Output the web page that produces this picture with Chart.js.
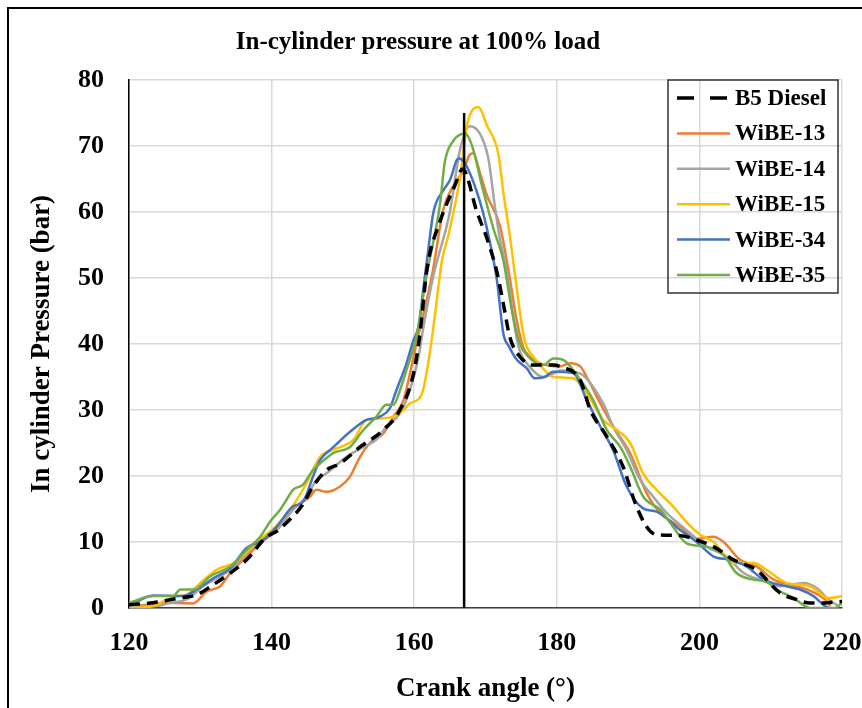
<!DOCTYPE html>
<html>
<head>
<meta charset="utf-8">
<title>In-cylinder pressure at 100% load</title>
<script src="https://cdn.jsdelivr.net/npm/chart.js@4.4.0/dist/chart.umd.min.js"></script>
<style>
  html, body { margin: 0; padding: 0; background: #fff; overflow: hidden; }
  #frame { position: absolute; left: 7px; top: 7px; width: 1000px; height: 1000px; border: 2px solid #000; }
  #wrap { position: absolute; left: 0; top: 0; width: 900px; height: 740px; }
</style>
</head>
<body>
<div id="frame"></div>
<div id="wrap"><canvas id="pressureChart"></canvas></div>
<script>
const chartTitle = 'In-cylinder pressure at 100% load';
const xTitle = 'Crank angle (°)';
const yTitle = 'In cylinder Pressure (bar)';

// crank angle (deg) / pressure (bar)
const b5Angle = [120, 123.4, 127, 129.5, 131.5, 134.2, 136.5, 139.3, 140.7, 143, 144.2, 145.8, 147.7, 149.6, 152.4, 155.7, 158, 159.9, 160.8, 161.8, 163.6, 165.7, 166.8, 168.8, 170.2, 171.6, 172.5, 173.4, 174.8, 176.7, 179.5, 180.4, 183.3, 184.7, 187, 189.3, 191, 192.6, 194, 197.2, 199.6, 202, 204.8, 208, 211.3, 213.6, 215.5, 218, 220];
const b5Pressure = [0.5, 0.8, 1.5, 2.0, 3.3, 5.3, 7.3, 10.8, 11.6, 13.9, 15.4, 18.4, 20.9, 21.9, 24.4, 27, 30, 35.5, 41.5, 51.4, 58.5, 64, 66.5, 60, 56, 50.9, 46.1, 41.1, 38.1, 36.8, 36.8, 36.6, 34.5, 30, 26, 21.4, 15.9, 12.3, 11.1, 11, 10.3, 9.3, 7.3, 5.8, 2.3, 1.3, 0.75, 0.8, 1];

const wibe13Angle = [120, 122.5, 125.3, 129, 130.9, 132.8, 134.2, 136.5, 138.4, 140.7, 143, 145.4, 146.3, 147.7, 149.6, 151, 152.4, 153.8, 155.7, 157.1, 158.5, 159.4, 160.3, 162.5, 164.1, 165.5, 166.9, 167.8, 168.3, 169.2, 170.2, 172, 173.4, 174.3, 175.3, 176.3, 177.6, 180.4, 181.9, 183.3, 184.2, 186.1, 187.9, 190.3, 192.6, 194.5, 197.3, 199.6, 202, 203.4, 205.7, 208, 210.4, 212.7, 215.1, 217.4, 218.4];
const wibe13Pressure = [0.3, 0.5, 0.8, 0.7, 2.5, 3.3, 5.3, 7.8, 9.8, 11.8, 14.9, 16.9, 17.9, 17.6, 18.4, 19.9, 22.9, 25, 26.5, 29, 31.5, 35.5, 40, 50.4, 60.5, 64, 66.3, 68.7, 68.9, 66, 62.5, 58, 50, 44, 39.5, 38, 37.1, 36.6, 37.1, 36.6, 35, 31, 27.5, 23.4, 17.4, 14.4, 12.3, 10.5, 10.8, 10, 7.3, 6.3, 4.3, 3.5, 2.8, 1.5, 0.3];

const wibe14Angle = [120, 123.9, 125.8, 128.1, 130.4, 134.2, 136.5, 138.8, 140.7, 143, 144.9, 146.3, 147.7, 150.5, 152.9, 154.7, 156.1, 158, 159.4, 160.6, 161.3, 162.7, 165, 166.4, 167.8, 169.2, 170.4, 171.3, 172, 172.7, 173.4, 174.1, 174.8, 176, 178.1, 179.5, 180.5, 183.3, 186.5, 187.9, 189.8, 191.7, 193.5, 195.4, 198.2, 201, 203.8, 206.2, 208.5, 211.3, 214.6, 216.5, 217.9, 219.5];
const wibe14Pressure = [0.3, 0.3, 0.8, 1.3, 3.3, 5.8, 8.3, 10.3, 11.8, 14.9, 16.9, 19.4, 20.4, 22.9, 24.4, 25.5, 27.5, 29.5, 33, 38, 42.6, 50.4, 60, 69.3, 73, 71.9, 68.1, 61, 56, 52.5, 48, 42.5, 39, 36.8, 35, 35.5, 36, 35.5, 31, 27.5, 23.9, 19.4, 16.9, 14.4, 11.8, 9.3, 7.8, 5.3, 4.3, 3.3, 3.8, 3, 1.5, 0.3];

const wibe15Angle = [120, 123.4, 124.8, 126.7, 128.1, 130, 132.3, 134.7, 136.5, 138.5, 140.7, 143, 144.9, 146.8, 148.7, 151.5, 153.3, 155.2, 157.1, 158, 159.4, 161.1, 161.8, 162.7, 163.9, 164.8, 166.4, 167.4, 169, 170.2, 171.8, 172.5, 173.4, 174.2, 174.8, 175.5, 176.7, 178.3, 179.5, 182.3, 184.5, 186.5, 188.4, 190.3, 192.1, 194, 196.3, 198.2, 200.1, 202, 204.8, 207.6, 209.4, 212.2, 215.5, 218.1, 220];
const wibe15Pressure = [0, 0.3, 1, 1.8, 2, 3.8, 5.8, 6.8, 8.5, 10.5, 12.5, 15.5, 18.9, 22.9, 24, 25.5, 28.5, 28.7, 29, 29.5, 31, 32.5, 36, 42.6, 52.7, 56.5, 65, 73.1, 75.9, 73.1, 68.8, 63, 56.5, 50, 45, 40.5, 38.1, 36, 35, 34.8, 32, 28.5, 27, 25, 20.4, 17.9, 15.4, 13, 11.1, 10, 6.8, 6.8, 5.8, 3.8, 3.3, 1.5, 1.8];

const wibe34Angle = [120, 123.4, 127.6, 129.5, 131.8, 134.2, 136.5, 138.8, 140.7, 143, 144.4, 145.8, 146.8, 148.7, 151, 153.3, 155.2, 156.6, 157.5, 158.9, 159.9, 160.6, 161.3, 162, 162.7, 164.1, 165, 166.2, 167, 168.8, 170.2, 171.6, 172.5, 173.3, 174.4, 175.8, 176.9, 178.3, 179.5, 182.3, 184.2, 186.1, 187.9, 189.8, 192.1, 194, 197.3, 199.6, 202, 204.3, 206.6, 209, 211.3, 214.1, 216, 217.6, 218.2];
const wibe34Pressure = [0.3, 1.9, 1.8, 2.8, 4.5, 6, 9.1, 10.3, 12.3, 15.4, 16.1, 19.9, 22.4, 24.4, 26.7, 28.5, 29, 30.3, 33, 37, 40.6, 42.6, 48.5, 54.5, 60, 63.3, 64.8, 68.1, 67.6, 63, 57.5, 49.7, 41.6, 39.6, 37.6, 36.3, 34.8, 35, 35.8, 35.6, 31.5, 27.5, 23.9, 18.4, 15.1, 14.6, 11.8, 10, 7.8, 7.3, 6.3, 4.3, 3.5, 2.8, 1.8, 0.3, 0];

const wibe35Angle = [120, 123.4, 126.2, 127.2, 129.1, 131.4, 134.2, 136.5, 138.4, 139.8, 141.2, 142.1, 143, 144.4, 145.8, 146.8, 148.7, 151, 152.9, 154.7, 156.1, 157.1, 158, 158.9, 160.4, 161.7, 163.6, 164.3, 165.5, 167.1, 168.1, 169.5, 171.1, 172.5, 173.7, 174.8, 176, 178.1, 179.5, 180.9, 182.8, 185.1, 187, 188.9, 190.3, 192.1, 194.5, 196.3, 198.2, 201, 203.4, 205.2, 207.6, 209.4, 210.8, 213.2, 214.8, 215.5, 219, 220];
const wibe35Pressure = [0.75, 1.8, 1.8, 2.8, 2.8, 4.8, 6.3, 8.8, 10.8, 13.1, 14.9, 16.4, 17.9, 18.7, 20.9, 21.9, 23.5, 24.4, 27, 29, 30.8, 30.8, 33, 36, 41.6, 50.2, 61, 67.6, 70.8, 71.9, 70.1, 64, 57.5, 52.7, 45.1, 40.1, 38.1, 36.8, 37.8, 37.6, 35.3, 31.5, 27, 24.4, 21.4, 16.9, 14.9, 12.3, 9.8, 9.3, 8, 5.3, 4.3, 4, 2.8, 1.5, 0.3, 0, 0, 0.8];

// TDC marker line
const tdcAngle = [167, 167];
const tdcPressure = [0, 75];

const toPoints = (xs, ys) => xs.map((x, i) => ({ x: x, y: ys[i] }));

function series(label, xs, ys, color, order) {
  return {
    label: label,
    data: toPoints(xs, ys),
    borderColor: color,
    borderWidth: 2.5,
    pointRadius: 0,
    cubicInterpolationMode: 'monotone',
    order: order
  };
}

const datasets = [
  {
    label: 'B5 Diesel',
    data: toPoints(b5Angle, b5Pressure),
    borderColor: '#000000',
    borderWidth: 3.5,
    borderDash: [11, 7],
    legendDash: [17, 16],
    pointRadius: 0,
    cubicInterpolationMode: 'monotone',
    order: 0
  },
  series('WiBE-13', wibe13Angle, wibe13Pressure, '#ED7D31', 5),
  series('WiBE-14', wibe14Angle, wibe14Pressure, '#A5A5A5', 4),
  series('WiBE-15', wibe15Angle, wibe15Pressure, '#FFC000', 3),
  series('WiBE-34', wibe34Angle, wibe34Pressure, '#4472C4', 2),
  series('WiBE-35', wibe35Angle, wibe35Pressure, '#70AD47', 1),
  {
    data: toPoints(tdcAngle, tdcPressure),
    borderColor: '#000000',
    borderWidth: 2.5,
    pointRadius: 0,
    order: -1
  }
];

const serif = '"Liberation Serif", "Times New Roman", serif';
Chart.defaults.font.family = serif;
Chart.defaults.color = '#000';

// title sits left of the plot centre in the original, so draw it here
const titlePlugin = {
  id: 'sheetTitle',
  afterDraw(chart) {
    const ctx = chart.ctx;
    ctx.save();
    ctx.font = 'bold 25px ' + serif;
    ctx.fillStyle = '#000';
    ctx.textAlign = 'center';
    ctx.textBaseline = 'middle';
    ctx.fillText(chartTitle, 418, 43);
    ctx.restore();
  }
};

// boxed legend in the top-right corner of the plot
const boxLegend = {
  id: 'boxLegend',
  afterDraw(chart) {
    const ctx = chart.ctx;
    const items = chart.data.datasets.filter(d => d.label);
    const left = 668, top = 80, width = 170, height = 213, rowH = 35.4;
    ctx.save();
    ctx.lineWidth = 1.5;
    ctx.strokeStyle = '#333';
    ctx.strokeRect(left, top, width, height);
    ctx.font = 'bold 23px ' + serif;
    ctx.textBaseline = 'middle';
    ctx.textAlign = 'left';
    ctx.fillStyle = '#000';
    items.forEach((ds, i) => {
      const y = top + 18 + i * rowH;
      ctx.beginPath();
      ctx.setLineDash(ds.legendDash || []);
      ctx.lineWidth = ds.borderWidth;
      ctx.strokeStyle = ds.borderColor;
      ctx.moveTo(677, y);
      ctx.lineTo(730, y);
      ctx.stroke();
      ctx.setLineDash([]);
      ctx.fillText(ds.label, 735, y + 1);
    });
    ctx.restore();
  }
};

new Chart(document.getElementById('pressureChart'), {
  type: 'line',
  data: { datasets: datasets },
  options: {
    responsive: true,
    maintainAspectRatio: false,
    animation: false,
    layout: { padding: { left: 10, top: 80, right: 58, bottom: 0 } },
    plugins: {
      legend: { display: false },
      title: { display: false },
      tooltip: { enabled: false }
    },
    scales: {
      x: {
        type: 'linear',
        min: 120,
        max: 220,
        ticks: { stepSize: 20, padding: 20, font: { size: 26, weight: 'bold' }, color: '#000' },
        grid: { color: '#d9d9d9', lineWidth: 1.5, drawTicks: false },
        border: { color: '#404040', width: 1.5 },
        title: { display: true, text: xTitle, font: { size: 27, weight: 'bold' }, padding: { top: 0, bottom: 35 } },
        afterFit(scale) { scale.height = 132; }
      },
      y: {
        min: 0,
        max: 80,
        ticks: { stepSize: 10, padding: 25, font: { size: 26, weight: 'bold' }, color: '#000' },
        grid: { color: '#d9d9d9', lineWidth: 1.5, drawTicks: false },
        border: { color: '#000', width: 1.5 },
        title: { display: true, text: yTitle, font: { size: 27, weight: 'bold' }, padding: { top: 16, bottom: 0 } },
        afterFit(scale) { scale.width = 119; }
      }
    }
  },
  plugins: [titlePlugin, boxLegend]
});
</script>
</body>
</html>
